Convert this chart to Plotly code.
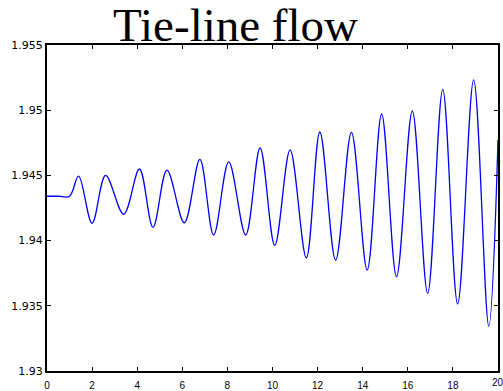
import plotly.graph_objects as go

# Time (s) and tie-line flow values (flat start, then extrema)
time_s = [0.0, 0.5, 1.0, 1.40, 2.00, 2.60, 3.40, 4.10, 4.70, 5.32, 6.09, 6.78, 7.39,
          8.06, 8.81, 9.45, 10.10, 10.78, 11.50, 12.10, 12.80, 13.50, 14.20, 14.84,
          15.50, 16.20, 16.88, 17.55, 18.21, 18.92, 19.59, 20.0]
flow = [1.9434, 1.9434, 1.9434, 1.94495, 1.94133, 1.9450, 1.94202, 1.94549, 1.94102,
        1.94541, 1.94137, 1.94623, 1.94043, 1.94603, 1.94043, 1.9471, 1.93964, 1.94695,
        1.93867, 1.94833, 1.9385, 1.9483, 1.93775, 1.94971, 1.93723, 1.94994, 1.93596,
        1.9516, 1.93514, 1.95232, 1.93345, 1.94771]

x_ticks = [0, 2, 4, 6, 8, 10, 12, 14, 16, 18, 20]
x_tick_text = ["0", "2", "4", "6", "8", "10", "12", "14", "16", "18", "20"]
y_ticks = [1.93, 1.935, 1.94, 1.945, 1.95, 1.955]
y_tick_text = ["1.93", "1.935", "1.94", "1.945", "1.95", "1.955"]
title_text = "Tie-line flow"

fig = go.Figure()
fig.add_trace(go.Scatter(x=time_s, y=flow, mode="lines",
                         line=dict(color="#0000ff", width=1.3, shape="spline", smoothing=1.0),
                         showlegend=False, hoverinfo="skip"))

fig.update_layout(
    width=503, height=391,
    margin=dict(l=47, r=5, t=45, b=20, autoexpand=False),
    paper_bgcolor="white", plot_bgcolor="white",
    showlegend=False,
)
fig.add_annotation(text=title_text, xref="paper", yref="paper", x=0.418, y=1.0,
                   xanchor="center", yanchor="bottom", yshift=-8, showarrow=False,
                   font=dict(family="Liberation Serif", size=47, color="black"))

# last x tick label sits at the page edge (partly cut off, as in the reference)
fig.add_annotation(text=x_tick_text[-1], xref="x", yref="paper", x=x_ticks[-1], y=0,
                   xanchor="center", yanchor="top", yshift=-4, showarrow=False,
                   font=dict(family="Liberation Sans", size=10, color="black"))

fig.update_xaxes(range=[0, 20], tickvals=x_ticks,
                 ticktext=x_tick_text[:-1] + [""],
                 showline=True, linecolor="black", linewidth=2, mirror="ticks",
                 ticks="inside", ticklen=4, tickcolor="black", tickwidth=1,
                 ticklabelstandoff=4, automargin=False,
                 showgrid=False, zeroline=False,
                 tickfont=dict(family="Liberation Sans", size=10, color="black"))
fig.update_yaxes(range=[1.93, 1.955], tickvals=y_ticks, ticktext=y_tick_text,
                 showline=True, linecolor="black", linewidth=2, mirror="ticks",
                 ticks="inside", ticklen=4, tickcolor="black", tickwidth=1,
                 automargin=False,
                 showgrid=False, zeroline=False,
                 tickfont=dict(family="DejaVu Sans", size=11, color="black"))

fig.write_html("out.html", config={"displayModeBar": False},
               post_script="document.body.style.margin='0';document.body.style.overflow='hidden';")
